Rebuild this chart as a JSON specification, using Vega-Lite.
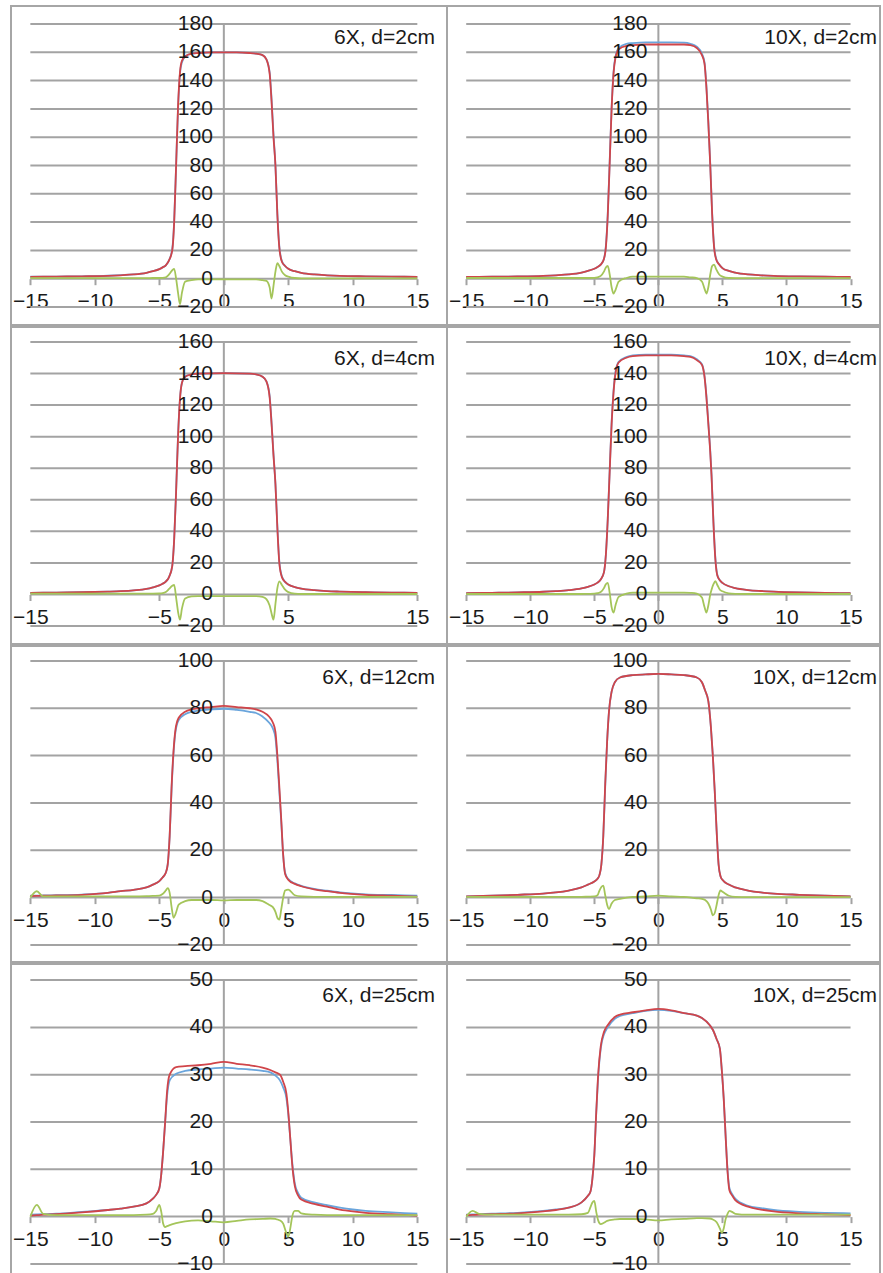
{
"$schema": "https://vega.github.io/schema/vega-lite/v6.json",
"padding": {"left": 10, "top": 5, "right": 0, "bottom": 0},
"background": "white",
"datasets": {"prof": [
{"p":"A","x":-15,"b":1.4,"r":1.3,"g":0.4},{"p":"A","x":-13,"b":1.5,"r":1.5,"g":0.4},{"p":"A","x":-11,"b":1.7,"r":1.7,"g":0.4},{"p":"A","x":-9,"b":2.1,"r":2.0,"g":0.4},{"p":"A","x":-8,"b":2.5,"r":2.4,"g":0.4},{"p":"A","x":-7,"b":3.0,"r":3.0,"g":0.4},{"p":"A","x":-6,"b":4.2,"r":4.2,"g":0.4},{"p":"A","x":-5.5,"b":5.3,"r":5.3,"g":0.5},{"p":"A","x":-5,"b":6.8,"r":6.8,"g":0.5},{"p":"A","x":-4.75,"b":8.0,"r":8.0,"g":0.6},{"p":"A","x":-4.5,"b":9.5,"r":9.5,"g":1.0},{"p":"A","x":-4.25,"b":13,"r":13,"g":3},{"p":"A","x":-4.0,"b":21,"r":20,"g":6},{"p":"A","x":-3.85,"b":41,"r":40,"g":7},{"p":"A","x":-3.7,"b":80,"r":80,"g":0},{"p":"A","x":-3.55,"b":120,"r":122,"g":-10},{"p":"A","x":-3.4,"b":145,"r":146,"g":-18},{"p":"A","x":-3.25,"b":153,"r":154,"g":-10},{"p":"A","x":-3.0,"b":157,"r":157,"g":-2},{"p":"A","x":-2.5,"b":159,"r":159,"g":-1},{"p":"A","x":-2,"b":159.5,"r":159.5,"g":-0.5},{"p":"A","x":-1,"b":160,"r":160,"g":-0.5},{"p":"A","x":0,"b":160,"r":160,"g":-0.5},{"p":"A","x":1,"b":160,"r":160,"g":-0.5},{"p":"A","x":2,"b":159.5,"r":159.5,"g":-0.5},{"p":"A","x":2.5,"b":159,"r":159,"g":-0.5},{"p":"A","x":3.0,"b":158,"r":158,"g":-1},{"p":"A","x":3.3,"b":155,"r":155,"g":-1.5},{"p":"A","x":3.55,"b":146,"r":145,"g":-6},{"p":"A","x":3.7,"b":127,"r":125,"g":-14},{"p":"A","x":3.85,"b":102,"r":100,"g":-5},{"p":"A","x":4.0,"b":80,"r":80,"g":5},{"p":"A","x":4.15,"b":46,"r":45,"g":11},{"p":"A","x":4.3,"b":23,"r":22,"g":9},{"p":"A","x":4.5,"b":12.5,"r":12,"g":5},{"p":"A","x":4.75,"b":9,"r":9,"g":2.5},{"p":"A","x":5,"b":7,"r":7,"g":1.5},{"p":"A","x":5.5,"b":5.3,"r":5.3,"g":0.5},{"p":"A","x":6,"b":4.2,"r":4.2,"g":0.3},{"p":"A","x":7,"b":3.0,"r":3.0,"g":0.3},{"p":"A","x":8,"b":2.4,"r":2.4,"g":0.3},{"p":"A","x":9,"b":2.0,"r":2.0,"g":0.3},{"p":"A","x":11,"b":1.7,"r":1.7,"g":0.3},{"p":"A","x":13,"b":1.5,"r":1.5,"g":0.3},{"p":"A","x":15,"b":1.3,"r":1.3,"g":0.3},
{"p":"B","x":-15,"b":1.2,"r":1.2,"g":0.5},{"p":"B","x":-13,"b":1.4,"r":1.4,"g":0.5},{"p":"B","x":-11,"b":1.6,"r":1.6,"g":0.5},{"p":"B","x":-9,"b":2.0,"r":2.0,"g":0.5},{"p":"B","x":-8,"b":2.4,"r":2.4,"g":0.5},{"p":"B","x":-7,"b":3.0,"r":3.0,"g":0.5},{"p":"B","x":-6,"b":4.3,"r":4.3,"g":0.5},{"p":"B","x":-5.5,"b":5.5,"r":5.5,"g":0.5},{"p":"B","x":-5,"b":7.0,"r":7.0,"g":0.6},{"p":"B","x":-4.75,"b":8.3,"r":8.3,"g":1},{"p":"B","x":-4.5,"b":10,"r":10,"g":2},{"p":"B","x":-4.25,"b":14,"r":14,"g":5},{"p":"B","x":-4.1,"b":23,"r":22,"g":8},{"p":"B","x":-3.95,"b":46,"r":45,"g":9},{"p":"B","x":-3.8,"b":83,"r":82,"g":3},{"p":"B","x":-3.65,"b":121,"r":120,"g":-6},{"p":"B","x":-3.5,"b":146,"r":145,"g":-10.5},{"p":"B","x":-3.35,"b":157,"r":156,"g":-8},{"p":"B","x":-3.1,"b":163,"r":162,"g":-2},{"p":"B","x":-2.5,"b":166,"r":164.5,"g":0.5},{"p":"B","x":-2,"b":166.5,"r":165,"g":1.5},{"p":"B","x":-1,"b":167,"r":165.5,"g":1.5},{"p":"B","x":0,"b":167,"r":165.5,"g":1.5},{"p":"B","x":1,"b":167,"r":165.5,"g":1.5},{"p":"B","x":2,"b":166.8,"r":165.5,"g":1.5},{"p":"B","x":2.5,"b":166,"r":165,"g":1},{"p":"B","x":3.0,"b":164,"r":163,"g":0.5},{"p":"B","x":3.4,"b":159,"r":158,"g":-2},{"p":"B","x":3.6,"b":153,"r":152,"g":-7},{"p":"B","x":3.75,"b":136,"r":135,"g":-10.5},{"p":"B","x":3.9,"b":111,"r":110,"g":-6},{"p":"B","x":4.05,"b":81,"r":80,"g":3},{"p":"B","x":4.2,"b":46,"r":45,"g":9},{"p":"B","x":4.35,"b":23,"r":22,"g":10},{"p":"B","x":4.5,"b":14.5,"r":14,"g":7},{"p":"B","x":4.75,"b":10,"r":10,"g":3},{"p":"B","x":5,"b":7.5,"r":7.5,"g":1.5},{"p":"B","x":5.5,"b":5.5,"r":5.5,"g":0.5},{"p":"B","x":6,"b":4.3,"r":4.3,"g":0.4},{"p":"B","x":7,"b":3.0,"r":3.0,"g":0.4},{"p":"B","x":8,"b":2.4,"r":2.4,"g":0.4},{"p":"B","x":9,"b":2.0,"r":2.0,"g":0.4},{"p":"B","x":11,"b":1.6,"r":1.6,"g":0.4},{"p":"B","x":13,"b":1.4,"r":1.4,"g":0.4},{"p":"B","x":15,"b":1.2,"r":1.2,"g":0.4},
{"p":"C","x":-15,"b":1.0,"r":1.0,"g":0.5},{"p":"C","x":-13,"b":1.2,"r":1.2,"g":0.5},{"p":"C","x":-11,"b":1.4,"r":1.4,"g":0.5},{"p":"C","x":-9,"b":1.8,"r":1.8,"g":0.5},{"p":"C","x":-8,"b":2.1,"r":2.1,"g":0.5},{"p":"C","x":-7,"b":2.6,"r":2.6,"g":0.5},{"p":"C","x":-6,"b":3.5,"r":3.5,"g":0.5},{"p":"C","x":-5.5,"b":4.5,"r":4.5,"g":0.5},{"p":"C","x":-5,"b":5.8,"r":5.8,"g":0.6},{"p":"C","x":-4.75,"b":6.8,"r":6.8,"g":0.8},{"p":"C","x":-4.5,"b":8.2,"r":8.2,"g":1.5},{"p":"C","x":-4.25,"b":11,"r":11,"g":3.5},{"p":"C","x":-4.0,"b":18,"r":18,"g":5.5},{"p":"C","x":-3.85,"b":35,"r":35,"g":6},{"p":"C","x":-3.7,"b":66,"r":65,"g":-2},{"p":"C","x":-3.55,"b":101,"r":100,"g":-11},{"p":"C","x":-3.4,"b":124,"r":124,"g":-16},{"p":"C","x":-3.25,"b":134,"r":134,"g":-9},{"p":"C","x":-3.0,"b":138,"r":138,"g":-2.5},{"p":"C","x":-2.5,"b":139.5,"r":139.5,"g":-1.2},{"p":"C","x":-2,"b":140,"r":140,"g":-1},{"p":"C","x":0,"b":140.3,"r":140.3,"g":-1},{"p":"C","x":2,"b":140,"r":140,"g":-1},{"p":"C","x":2.5,"b":139.5,"r":139.5,"g":-1},{"p":"C","x":3.0,"b":138,"r":138,"g":-1.5},{"p":"C","x":3.3,"b":135,"r":135,"g":-3},{"p":"C","x":3.55,"b":126,"r":125,"g":-7},{"p":"C","x":3.7,"b":109,"r":108,"g":-12},{"p":"C","x":3.85,"b":89,"r":88,"g":-16},{"p":"C","x":4.0,"b":70,"r":70,"g":-6},{"p":"C","x":4.15,"b":43,"r":42,"g":4},{"p":"C","x":4.3,"b":21,"r":20,"g":8.3},{"p":"C","x":4.5,"b":11.5,"r":11,"g":6},{"p":"C","x":4.75,"b":8,"r":8,"g":3},{"p":"C","x":5,"b":6.3,"r":6.3,"g":1.5},{"p":"C","x":5.5,"b":4.7,"r":4.7,"g":0.5},{"p":"C","x":6,"b":3.7,"r":3.7,"g":0.3},{"p":"C","x":7,"b":2.7,"r":2.7,"g":0.3},{"p":"C","x":8,"b":2.1,"r":2.1,"g":0.3},{"p":"C","x":9,"b":1.8,"r":1.8,"g":0.3},{"p":"C","x":11,"b":1.4,"r":1.4,"g":0.3},{"p":"C","x":13,"b":1.2,"r":1.2,"g":0.3},{"p":"C","x":15,"b":1.0,"r":1.0,"g":0.3},
{"p":"D","x":-15,"b":0.8,"r":0.8,"g":0.3},{"p":"D","x":-13,"b":1.0,"r":1.0,"g":0.3},{"p":"D","x":-11,"b":1.3,"r":1.3,"g":0.3},{"p":"D","x":-9,"b":1.7,"r":1.7,"g":0.3},{"p":"D","x":-8,"b":2.1,"r":2.1,"g":0.3},{"p":"D","x":-7,"b":2.7,"r":2.7,"g":0.3},{"p":"D","x":-6,"b":3.8,"r":3.8,"g":0.3},{"p":"D","x":-5.5,"b":4.8,"r":4.8,"g":0.4},{"p":"D","x":-5,"b":6.3,"r":6.3,"g":0.5},{"p":"D","x":-4.75,"b":7.5,"r":7.5,"g":0.8},{"p":"D","x":-4.5,"b":9.5,"r":9.5,"g":1.5},{"p":"D","x":-4.25,"b":14,"r":14,"g":4},{"p":"D","x":-4.1,"b":25,"r":25,"g":6.5},{"p":"D","x":-3.95,"b":48,"r":48,"g":7.4},{"p":"D","x":-3.8,"b":79,"r":78,"g":1},{"p":"D","x":-3.65,"b":109,"r":108,"g":-8},{"p":"D","x":-3.5,"b":129,"r":128,"g":-11.5},{"p":"D","x":-3.35,"b":141,"r":140,"g":-7},{"p":"D","x":-3.1,"b":147.5,"r":147,"g":-1.5},{"p":"D","x":-2.5,"b":150.5,"r":150,"g":0.5},{"p":"D","x":-2,"b":151.5,"r":151,"g":1.2},{"p":"D","x":-1,"b":152,"r":151.5,"g":1.2},{"p":"D","x":0,"b":152,"r":151.5,"g":1.2},{"p":"D","x":1,"b":152,"r":151.5,"g":1.2},{"p":"D","x":2,"b":151.5,"r":151,"g":1.2},{"p":"D","x":2.5,"b":151,"r":150.5,"g":1},{"p":"D","x":3.0,"b":149,"r":148.5,"g":0.5},{"p":"D","x":3.4,"b":146,"r":145.5,"g":-2},{"p":"D","x":3.6,"b":138.5,"r":138,"g":-8},{"p":"D","x":3.75,"b":126,"r":125,"g":-11.5},{"p":"D","x":3.9,"b":109,"r":108,"g":-7},{"p":"D","x":4.05,"b":91,"r":90,"g":0},{"p":"D","x":4.15,"b":76,"r":75,"g":3},{"p":"D","x":4.3,"b":46,"r":45,"g":6.5},{"p":"D","x":4.45,"b":23,"r":22,"g":8.4},{"p":"D","x":4.6,"b":12.5,"r":12,"g":6},{"p":"D","x":4.8,"b":9,"r":9,"g":3},{"p":"D","x":5,"b":7.3,"r":7.3,"g":2},{"p":"D","x":5.5,"b":5.2,"r":5.2,"g":0.7},{"p":"D","x":6,"b":4.0,"r":4.0,"g":0.4},{"p":"D","x":7,"b":2.8,"r":2.8,"g":0.3},{"p":"D","x":8,"b":2.2,"r":2.2,"g":0.3},{"p":"D","x":9,"b":1.8,"r":1.8,"g":0.3},{"p":"D","x":11,"b":1.3,"r":1.3,"g":0.3},{"p":"D","x":13,"b":1.0,"r":1.0,"g":0.3},{"p":"D","x":15,"b":0.8,"r":0.8,"g":0.3},
{"p":"E","x":-15,"b":0.8,"r":0.6,"g":0},{"p":"E","x":-14.5,"b":0.8,"r":0.7,"g":2.7},{"p":"E","x":-14,"b":0.9,"r":0.8,"g":0.5},{"p":"E","x":-13,"b":1.0,"r":0.9,"g":0.5},{"p":"E","x":-11,"b":1.3,"r":1.2,"g":0.5},{"p":"E","x":-9,"b":2.0,"r":2.0,"g":0.5},{"p":"E","x":-8,"b":2.7,"r":2.7,"g":0.5},{"p":"E","x":-7,"b":3.3,"r":3.3,"g":0.5},{"p":"E","x":-6,"b":4.3,"r":4.3,"g":0.6},{"p":"E","x":-5.5,"b":5.5,"r":5.5,"g":0.7},{"p":"E","x":-5,"b":7.0,"r":7.0,"g":0.8},{"p":"E","x":-4.75,"b":8.5,"r":8.5,"g":1.5},{"p":"E","x":-4.5,"b":10.5,"r":10.5,"g":3},{"p":"E","x":-4.35,"b":14,"r":14,"g":4},{"p":"E","x":-4.2,"b":26,"r":26,"g":2},{"p":"E","x":-4.05,"b":46,"r":47,"g":-4},{"p":"E","x":-3.9,"b":61,"r":62,"g":-8.5},{"p":"E","x":-3.75,"b":70,"r":71,"g":-7},{"p":"E","x":-3.5,"b":75,"r":76,"g":-3},{"p":"E","x":-3.0,"b":77.5,"r":78.5,"g":-1.5},{"p":"E","x":-2.5,"b":78.5,"r":79.5,"g":-1},{"p":"E","x":-2,"b":79,"r":80,"g":-1},{"p":"E","x":-1,"b":79.5,"r":80.5,"g":-1},{"p":"E","x":0,"b":79.8,"r":81,"g":-1.2},{"p":"E","x":1,"b":79.3,"r":80.5,"g":-1},{"p":"E","x":2,"b":78.5,"r":80,"g":-1},{"p":"E","x":2.5,"b":78,"r":79.5,"g":-1},{"p":"E","x":3.0,"b":76.5,"r":78.5,"g":-1.5},{"p":"E","x":3.5,"b":74,"r":76.5,"g":-3},{"p":"E","x":3.8,"b":71.5,"r":74,"g":-4},{"p":"E","x":4.0,"b":67.5,"r":70,"g":-6},{"p":"E","x":4.15,"b":58,"r":60,"g":-8.5},{"p":"E","x":4.3,"b":45,"r":47,"g":-9.3},{"p":"E","x":4.45,"b":32,"r":33,"g":-5},{"p":"E","x":4.6,"b":18,"r":18,"g":0},{"p":"E","x":4.75,"b":10.5,"r":10,"g":3},{"p":"E","x":5,"b":7.8,"r":7.5,"g":3.4},{"p":"E","x":5.5,"b":6.0,"r":5.8,"g":1},{"p":"E","x":6,"b":5.0,"r":4.8,"g":0.5},{"p":"E","x":7,"b":3.7,"r":3.5,"g":0.3},{"p":"E","x":8,"b":2.9,"r":2.7,"g":0.3},{"p":"E","x":9,"b":2.2,"r":2.0,"g":0.3},{"p":"E","x":11,"b":1.4,"r":1.2,"g":0.3},{"p":"E","x":13,"b":1.1,"r":0.8,"g":0.3},{"p":"E","x":15,"b":0.8,"r":0.4,"g":0.3},
{"p":"F","x":-15,"b":0.5,"r":0.5,"g":0.3},{"p":"F","x":-13,"b":0.8,"r":0.8,"g":0.3},{"p":"F","x":-11,"b":1.2,"r":1.2,"g":0.3},{"p":"F","x":-9,"b":1.7,"r":1.7,"g":0.3},{"p":"F","x":-8,"b":2.2,"r":2.2,"g":0.3},{"p":"F","x":-7,"b":3.0,"r":3.0,"g":0.3},{"p":"F","x":-6,"b":4.3,"r":4.3,"g":0.3},{"p":"F","x":-5.5,"b":5.5,"r":5.5,"g":0.4},{"p":"F","x":-5,"b":6.8,"r":6.8,"g":0.5},{"p":"F","x":-4.75,"b":8,"r":8,"g":1},{"p":"F","x":-4.6,"b":9.5,"r":9.5,"g":3},{"p":"F","x":-4.45,"b":14,"r":14,"g":4.5},{"p":"F","x":-4.3,"b":26,"r":26,"g":5.1},{"p":"F","x":-4.15,"b":47,"r":48,"g":1},{"p":"F","x":-4.0,"b":66,"r":66,"g":-3},{"p":"F","x":-3.85,"b":79,"r":79,"g":-4.8},{"p":"F","x":-3.65,"b":87,"r":87,"g":-2.5},{"p":"F","x":-3.4,"b":91,"r":91,"g":-1},{"p":"F","x":-3.0,"b":93,"r":93,"g":-0.5},{"p":"F","x":-2,"b":94,"r":94,"g":0.3},{"p":"F","x":-1,"b":94.3,"r":94.3,"g":0.5},{"p":"F","x":0,"b":94.5,"r":94.5,"g":0.8},{"p":"F","x":1,"b":94.3,"r":94.3,"g":0.5},{"p":"F","x":2,"b":94,"r":94,"g":0.3},{"p":"F","x":3.0,"b":93,"r":93,"g":-0.3},{"p":"F","x":3.4,"b":91,"r":91,"g":-0.5},{"p":"F","x":3.65,"b":87.5,"r":87.5,"g":-1},{"p":"F","x":3.9,"b":83,"r":83,"g":-2.5},{"p":"F","x":4.1,"b":72,"r":72,"g":-5},{"p":"F","x":4.25,"b":60,"r":60,"g":-7.5},{"p":"F","x":4.4,"b":45,"r":45,"g":-6.5},{"p":"F","x":4.55,"b":28,"r":28,"g":-3},{"p":"F","x":4.7,"b":14,"r":14,"g":1},{"p":"F","x":4.85,"b":9,"r":9,"g":3},{"p":"F","x":5,"b":7.5,"r":7.5,"g":2.5},{"p":"F","x":5.5,"b":5.5,"r":5.5,"g":0.8},{"p":"F","x":6,"b":4.3,"r":4.3,"g":0.3},{"p":"F","x":7,"b":3.0,"r":3.0,"g":0.2},{"p":"F","x":8,"b":2.2,"r":2.2,"g":0.2},{"p":"F","x":9,"b":1.7,"r":1.7,"g":0.2},{"p":"F","x":11,"b":1.2,"r":1.2,"g":0.2},{"p":"F","x":13,"b":0.8,"r":0.8,"g":0.2},{"p":"F","x":15,"b":0.5,"r":0.5,"g":0.2},
{"p":"G","x":-15,"b":0.4,"r":0.2,"g":0},{"p":"G","x":-14.5,"b":0.45,"r":0.3,"g":2.5},{"p":"G","x":-14,"b":0.5,"r":0.4,"g":0.6},{"p":"G","x":-13,"b":0.6,"r":0.5,"g":0.3},{"p":"G","x":-11,"b":1.0,"r":0.9,"g":0.3},{"p":"G","x":-9,"b":1.4,"r":1.4,"g":0.3},{"p":"G","x":-8,"b":1.7,"r":1.7,"g":0.3},{"p":"G","x":-7,"b":2.1,"r":2.1,"g":0.3},{"p":"G","x":-6,"b":2.8,"r":2.8,"g":0.4},{"p":"G","x":-5.5,"b":3.8,"r":3.8,"g":0.6},{"p":"G","x":-5.25,"b":4.6,"r":4.6,"g":1.2},{"p":"G","x":-5.0,"b":6,"r":6,"g":2.5},{"p":"G","x":-4.85,"b":9,"r":9,"g":1.0},{"p":"G","x":-4.7,"b":14,"r":14,"g":-1.5},{"p":"G","x":-4.55,"b":20,"r":20,"g":-2.2},{"p":"G","x":-4.4,"b":25.5,"r":26.5,"g":-2.0},{"p":"G","x":-4.2,"b":28.8,"r":30,"g":-1.8},{"p":"G","x":-3.7,"b":30.2,"r":31.6,"g":-1.4},{"p":"G","x":-3,"b":30.8,"r":31.8,"g":-1.0},{"p":"G","x":-2,"b":31.1,"r":32,"g":-0.8},{"p":"G","x":-1,"b":31.3,"r":32.3,"g":-1.0},{"p":"G","x":0,"b":31.5,"r":32.7,"g":-1.2},{"p":"G","x":1,"b":31.3,"r":32.3,"g":-0.9},{"p":"G","x":2,"b":31.1,"r":32,"g":-0.6},{"p":"G","x":3,"b":30.8,"r":31.5,"g":-0.5},{"p":"G","x":3.6,"b":30.5,"r":31,"g":-0.4},{"p":"G","x":4.0,"b":29.8,"r":30.5,"g":-0.5},{"p":"G","x":4.35,"b":28.8,"r":30,"g":-0.8},{"p":"G","x":4.6,"b":27.3,"r":28.5,"g":-1.5},{"p":"G","x":4.85,"b":25,"r":26,"g":-3.5},{"p":"G","x":5.0,"b":21.5,"r":22,"g":-4.2},{"p":"G","x":5.15,"b":16.5,"r":16.5,"g":-2.5},{"p":"G","x":5.3,"b":11.5,"r":11,"g":0},{"p":"G","x":5.5,"b":7,"r":6.5,"g":1.2},{"p":"G","x":5.75,"b":5,"r":4.5,"g":1.2},{"p":"G","x":6,"b":4,"r":3.6,"g":0.7},{"p":"G","x":7,"b":3,"r":2.7,"g":0.4},{"p":"G","x":8,"b":2.4,"r":2.1,"g":0.3},{"p":"G","x":9,"b":1.9,"r":1.5,"g":0.3},{"p":"G","x":10,"b":1.5,"r":1.1,"g":0.3},{"p":"G","x":11,"b":1.2,"r":0.8,"g":0.3},{"p":"G","x":13,"b":0.9,"r":0.5,"g":0.3},{"p":"G","x":15,"b":0.6,"r":0.2,"g":0.3},
{"p":"H","x":-15,"b":0.4,"r":0.3,"g":0},{"p":"H","x":-14.5,"b":0.45,"r":0.35,"g":1.2},{"p":"H","x":-14,"b":0.5,"r":0.4,"g":0.6},{"p":"H","x":-13,"b":0.6,"r":0.5,"g":0.4},{"p":"H","x":-11,"b":0.8,"r":0.7,"g":0.4},{"p":"H","x":-9,"b":1.2,"r":1.1,"g":0.4},{"p":"H","x":-8,"b":1.5,"r":1.4,"g":0.4},{"p":"H","x":-7,"b":1.9,"r":1.9,"g":0.4},{"p":"H","x":-6,"b":3.0,"r":3.0,"g":0.5},{"p":"H","x":-5.5,"b":4.4,"r":4.4,"g":0.8},{"p":"H","x":-5.3,"b":5.3,"r":5.3,"g":2.0},{"p":"H","x":-5.15,"b":8,"r":8,"g":3.0},{"p":"H","x":-5.0,"b":13,"r":13,"g":3.3},{"p":"H","x":-4.85,"b":22,"r":22,"g":1},{"p":"H","x":-4.7,"b":29.5,"r":30,"g":-0.8},{"p":"H","x":-4.5,"b":35.5,"r":36,"g":-1.6},{"p":"H","x":-4.25,"b":38.5,"r":39,"g":-1.3},{"p":"H","x":-4.0,"b":39.8,"r":40.3,"g":-0.9},{"p":"H","x":-3.4,"b":41.8,"r":42.2,"g":-0.6},{"p":"H","x":-3,"b":42.4,"r":42.7,"g":-0.5},{"p":"H","x":-2,"b":43,"r":43.2,"g":-0.5},{"p":"H","x":-1,"b":43.5,"r":43.6,"g":-0.6},{"p":"H","x":0,"b":43.7,"r":43.9,"g":-0.8},{"p":"H","x":1,"b":43.5,"r":43.6,"g":-0.6},{"p":"H","x":2,"b":43,"r":43,"g":-0.5},{"p":"H","x":3,"b":42.5,"r":42.5,"g":-0.3},{"p":"H","x":3.4,"b":42,"r":42,"g":-0.3},{"p":"H","x":4.0,"b":40.5,"r":40.5,"g":-0.4},{"p":"H","x":4.25,"b":39.5,"r":39.5,"g":-0.6},{"p":"H","x":4.55,"b":37.5,"r":37.5,"g":-1.2},{"p":"H","x":4.8,"b":35.5,"r":35.5,"g":-2.5},{"p":"H","x":4.95,"b":31,"r":31,"g":-3.4},{"p":"H","x":5.1,"b":25,"r":25,"g":-2.5},{"p":"H","x":5.25,"b":17,"r":17,"g":-0.5},{"p":"H","x":5.4,"b":9.8,"r":9.5,"g":0.6},{"p":"H","x":5.55,"b":6,"r":5.5,"g":1.2},{"p":"H","x":5.75,"b":4.8,"r":4.5,"g":1.0},{"p":"H","x":6,"b":3.8,"r":3.5,"g":0.6},{"p":"H","x":7,"b":2.3,"r":2.1,"g":0.4},{"p":"H","x":8,"b":1.8,"r":1.5,"g":0.4},{"p":"H","x":9,"b":1.4,"r":1.1,"g":0.4},{"p":"H","x":11,"b":1.0,"r":0.7,"g":0.4},{"p":"H","x":13,"b":0.8,"r":0.5,"g":0.4},{"p":"H","x":15,"b":0.7,"r":0.3,"g":0.4}
],
"g180": [{"g":-20},{"g":0},{"g":20},{"g":40},{"g":60},{"g":80},{"g":100},{"g":120},{"g":140},{"g":160},{"g":180}],
"g160": [{"g":-20},{"g":0},{"g":20},{"g":40},{"g":60},{"g":80},{"g":100},{"g":120},{"g":140},{"g":160}],
"g100": [{"g":-20},{"g":0},{"g":20},{"g":40},{"g":60},{"g":80},{"g":100}],
"g50": [{"g":-10},{"g":0},{"g":10},{"g":20},{"g":30},{"g":40},{"g":50}]
},
"spacing": 0,
"vconcat": [
{"hconcat": [
{"width": 436, "height": 319, "title": {"text": "6X, d=2cm", "dx": -12},
 "layer": [
  {"data": {"name": "g180"}, "mark": {"type": "rule", "color": "#a3a3a3", "strokeWidth": 2},
   "encoding": {
    "x": {"datum": -15, "type": "quantitative", "scale": {"domain": [-16.5, 17.3], "nice": false, "zero": false}, "axis": {"values": [-15,-10,-5,0,5,10,15], "offset": -46.3, "title": null}},
    "x2": {"datum": 15},
    "y": {"field": "g", "type": "quantitative", "scale": {"domain": [-32.7, 192.7], "nice": false, "zero": false}, "axis": null}}},
  {"data": {"values": [{}]}, "mark": {"type": "rule", "color": "#a3a3a3", "strokeWidth": 2},
   "encoding": {"x": {"datum": 0, "type": "quantitative"}, "y": {"datum": -20, "type": "quantitative", "axis": null}, "y2": {"datum": 180}}},
  {"data": {"name": "prof"}, "transform": [{"filter": "datum.p == 'A'"}, {"fold": ["b", "r", "g"], "as": ["s", "v"]}],
   "mark": {"type": "line", "strokeWidth": 1.8, "interpolate": "monotone"},
   "encoding": {"x": {"field": "x", "type": "quantitative", "axis": {"title": null}}, "y": {"field": "v", "type": "quantitative", "axis": null},
    "color": {"field": "s", "type": "nominal", "scale": {"domain": ["b", "r", "g"], "range": ["#6aa5dc", "#d0454a", "#a4c55a"]}, "legend": null}}},
  {"data": {"name": "g180"}, "mark": {"type": "text", "align": "right", "baseline": "middle", "dx": -11, "fontSize": 21, "font": "Liberation Sans", "color": "#1a1a1a"},
   "encoding": {"x": {"datum": 0, "type": "quantitative"}, "y": {"field": "g", "type": "quantitative", "axis": null}, "text": {"field": "g", "type": "quantitative", "format": "d"}}}
 ]},
{"width": 433, "height": 319, "title": {"text": "10X, d=2cm", "dx": -3},
 "layer": [
  {"data": {"name": "g180"}, "mark": {"type": "rule", "color": "#a3a3a3", "strokeWidth": 2},
   "encoding": {
    "x": {"datum": -15, "type": "quantitative", "scale": {"domain": [-16.5, 17.3], "nice": false, "zero": false}, "axis": {"values": [-15,-10,-5,0,5,10,15], "offset": -46.3, "title": null}},
    "x2": {"datum": 15},
    "y": {"field": "g", "type": "quantitative", "scale": {"domain": [-32.7, 192.7], "nice": false, "zero": false}, "axis": null}}},
  {"data": {"values": [{}]}, "mark": {"type": "rule", "color": "#a3a3a3", "strokeWidth": 2},
   "encoding": {"x": {"datum": 0, "type": "quantitative"}, "y": {"datum": -20, "type": "quantitative", "axis": null}, "y2": {"datum": 180}}},
  {"data": {"name": "prof"}, "transform": [{"filter": "datum.p == 'B'"}, {"fold": ["b", "r", "g"], "as": ["s", "v"]}],
   "mark": {"type": "line", "strokeWidth": 1.8, "interpolate": "monotone"},
   "encoding": {"x": {"field": "x", "type": "quantitative", "axis": {"title": null}}, "y": {"field": "v", "type": "quantitative", "axis": null},
    "color": {"field": "s", "type": "nominal", "scale": {"domain": ["b", "r", "g"], "range": ["#6aa5dc", "#d0454a", "#a4c55a"]}, "legend": null}}},
  {"data": {"name": "g180"}, "mark": {"type": "text", "align": "right", "baseline": "middle", "dx": -11, "fontSize": 21, "font": "Liberation Sans", "color": "#1a1a1a"},
   "encoding": {"x": {"datum": 0, "type": "quantitative"}, "y": {"field": "g", "type": "quantitative", "axis": null}, "text": {"field": "g", "type": "quantitative", "format": "d"}}}
 ]}
], "spacing": 0, "bounds": "flush"},
{"hconcat": [
{"width": 436, "height": 317, "title": {"text": "6X, d=4cm", "dx": -12},
 "layer": [
  {"data": {"name": "g160"}, "mark": {"type": "rule", "color": "#a3a3a3", "strokeWidth": 2},
   "encoding": {
    "x": {"datum": -15, "type": "quantitative", "scale": {"domain": [-16.5, 17.3], "nice": false, "zero": false}, "axis": {"values": [-15,-5,5,15], "offset": -49.5, "title": null}},
    "x2": {"datum": 15},
    "y": {"field": "g", "type": "quantitative", "scale": {"domain": [-31.4, 169.5], "nice": false, "zero": false}, "axis": null}}},
  {"data": {"values": [{}]}, "mark": {"type": "rule", "color": "#a3a3a3", "strokeWidth": 2},
   "encoding": {"x": {"datum": 0, "type": "quantitative"}, "y": {"datum": -20, "type": "quantitative", "axis": null}, "y2": {"datum": 160}}},
  {"data": {"name": "prof"}, "transform": [{"filter": "datum.p == 'C'"}, {"fold": ["b", "r", "g"], "as": ["s", "v"]}],
   "mark": {"type": "line", "strokeWidth": 1.8, "interpolate": "monotone"},
   "encoding": {"x": {"field": "x", "type": "quantitative", "axis": {"title": null}}, "y": {"field": "v", "type": "quantitative", "axis": null},
    "color": {"field": "s", "type": "nominal", "scale": {"domain": ["b", "r", "g"], "range": ["#6aa5dc", "#d0454a", "#a4c55a"]}, "legend": null}}},
  {"data": {"name": "g160"}, "mark": {"type": "text", "align": "right", "baseline": "middle", "dx": -11, "fontSize": 21, "font": "Liberation Sans", "color": "#1a1a1a"},
   "encoding": {"x": {"datum": 0, "type": "quantitative"}, "y": {"field": "g", "type": "quantitative", "axis": null}, "text": {"field": "g", "type": "quantitative", "format": "d"}}}
 ]},
{"width": 433, "height": 317, "title": {"text": "10X, d=4cm", "dx": -3},
 "layer": [
  {"data": {"name": "g160"}, "mark": {"type": "rule", "color": "#a3a3a3", "strokeWidth": 2},
   "encoding": {
    "x": {"datum": -15, "type": "quantitative", "scale": {"domain": [-16.5, 17.3], "nice": false, "zero": false}, "axis": {"values": [-15,-10,-5,0,5,10,15], "offset": -49.5, "title": null}},
    "x2": {"datum": 15},
    "y": {"field": "g", "type": "quantitative", "scale": {"domain": [-31.4, 169.5], "nice": false, "zero": false}, "axis": null}}},
  {"data": {"values": [{}]}, "mark": {"type": "rule", "color": "#a3a3a3", "strokeWidth": 2},
   "encoding": {"x": {"datum": 0, "type": "quantitative"}, "y": {"datum": -20, "type": "quantitative", "axis": null}, "y2": {"datum": 160}}},
  {"data": {"name": "prof"}, "transform": [{"filter": "datum.p == 'D'"}, {"fold": ["b", "r", "g"], "as": ["s", "v"]}],
   "mark": {"type": "line", "strokeWidth": 1.8, "interpolate": "monotone"},
   "encoding": {"x": {"field": "x", "type": "quantitative", "axis": {"title": null}}, "y": {"field": "v", "type": "quantitative", "axis": null},
    "color": {"field": "s", "type": "nominal", "scale": {"domain": ["b", "r", "g"], "range": ["#6aa5dc", "#d0454a", "#a4c55a"]}, "legend": null}}},
  {"data": {"name": "g160"}, "mark": {"type": "text", "align": "right", "baseline": "middle", "dx": -11, "fontSize": 21, "font": "Liberation Sans", "color": "#1a1a1a"},
   "encoding": {"x": {"datum": 0, "type": "quantitative"}, "y": {"field": "g", "type": "quantitative", "axis": null}, "text": {"field": "g", "type": "quantitative", "format": "d"}}}
 ]}
], "spacing": 0, "bounds": "flush"},
{"hconcat": [
{"width": 436, "height": 316, "title": {"text": "6X, d=12cm", "dx": -12},
 "layer": [
  {"data": {"name": "g100"}, "mark": {"type": "rule", "color": "#a3a3a3", "strokeWidth": 2},
   "encoding": {
    "x": {"datum": -15, "type": "quantitative", "scale": {"domain": [-16.5, 17.3], "nice": false, "zero": false}, "axis": {"values": [-15,-10,-5,0,5,10,15], "offset": -64.4, "title": null}},
    "x2": {"datum": 15},
    "y": {"field": "g", "type": "quantitative", "scale": {"domain": [-27.2, 106.3], "nice": false, "zero": false}, "axis": null}}},
  {"data": {"values": [{}]}, "mark": {"type": "rule", "color": "#a3a3a3", "strokeWidth": 2},
   "encoding": {"x": {"datum": 0, "type": "quantitative"}, "y": {"datum": -20, "type": "quantitative", "axis": null}, "y2": {"datum": 100}}},
  {"data": {"name": "prof"}, "transform": [{"filter": "datum.p == 'E'"}, {"fold": ["b", "r", "g"], "as": ["s", "v"]}],
   "mark": {"type": "line", "strokeWidth": 1.8, "interpolate": "monotone"},
   "encoding": {"x": {"field": "x", "type": "quantitative", "axis": {"title": null}}, "y": {"field": "v", "type": "quantitative", "axis": null},
    "color": {"field": "s", "type": "nominal", "scale": {"domain": ["b", "r", "g"], "range": ["#6aa5dc", "#d0454a", "#a4c55a"]}, "legend": null}}},
  {"data": {"name": "g100"}, "mark": {"type": "text", "align": "right", "baseline": "middle", "dx": -11, "fontSize": 21, "font": "Liberation Sans", "color": "#1a1a1a"},
   "encoding": {"x": {"datum": 0, "type": "quantitative"}, "y": {"field": "g", "type": "quantitative", "axis": null}, "text": {"field": "g", "type": "quantitative", "format": "d"}}}
 ]},
{"width": 433, "height": 316, "title": {"text": "10X, d=12cm", "dx": -3},
 "layer": [
  {"data": {"name": "g100"}, "mark": {"type": "rule", "color": "#a3a3a3", "strokeWidth": 2},
   "encoding": {
    "x": {"datum": -15, "type": "quantitative", "scale": {"domain": [-16.5, 17.3], "nice": false, "zero": false}, "axis": {"values": [-15,-10,-5,0,5,10,15], "offset": -64.4, "title": null}},
    "x2": {"datum": 15},
    "y": {"field": "g", "type": "quantitative", "scale": {"domain": [-27.2, 106.3], "nice": false, "zero": false}, "axis": null}}},
  {"data": {"values": [{}]}, "mark": {"type": "rule", "color": "#a3a3a3", "strokeWidth": 2},
   "encoding": {"x": {"datum": 0, "type": "quantitative"}, "y": {"datum": -20, "type": "quantitative", "axis": null}, "y2": {"datum": 100}}},
  {"data": {"name": "prof"}, "transform": [{"filter": "datum.p == 'F'"}, {"fold": ["b", "r", "g"], "as": ["s", "v"]}],
   "mark": {"type": "line", "strokeWidth": 1.8, "interpolate": "monotone"},
   "encoding": {"x": {"field": "x", "type": "quantitative", "axis": {"title": null}}, "y": {"field": "v", "type": "quantitative", "axis": null},
    "color": {"field": "s", "type": "nominal", "scale": {"domain": ["b", "r", "g"], "range": ["#6aa5dc", "#d0454a", "#a4c55a"]}, "legend": null}}},
  {"data": {"name": "g100"}, "mark": {"type": "text", "align": "right", "baseline": "middle", "dx": -11, "fontSize": 21, "font": "Liberation Sans", "color": "#1a1a1a"},
   "encoding": {"x": {"datum": 0, "type": "quantitative"}, "y": {"field": "g", "type": "quantitative", "axis": null}, "text": {"field": "g", "type": "quantitative", "format": "d"}}}
 ]}
], "spacing": 0, "bounds": "flush"},
{"hconcat": [
{"width": 436, "height": 316, "title": {"text": "6X, d=25cm", "dx": -12},
 "layer": [
  {"data": {"name": "g50"}, "mark": {"type": "rule", "color": "#a3a3a3", "strokeWidth": 2},
   "encoding": {
    "x": {"datum": -15, "type": "quantitative", "scale": {"domain": [-16.5, 17.3], "nice": false, "zero": false}, "axis": {"values": [-15,-10,-5,0,5,10,15], "offset": -63.4, "title": null}},
    "x2": {"datum": 15},
    "y": {"field": "g", "type": "quantitative", "scale": {"domain": [-13.4, 53.4], "nice": false, "zero": false}, "axis": null}}},
  {"data": {"values": [{}]}, "mark": {"type": "rule", "color": "#a3a3a3", "strokeWidth": 2},
   "encoding": {"x": {"datum": 0, "type": "quantitative"}, "y": {"datum": -10, "type": "quantitative", "axis": null}, "y2": {"datum": 50}}},
  {"data": {"name": "prof"}, "transform": [{"filter": "datum.p == 'G'"}, {"fold": ["b", "r", "g"], "as": ["s", "v"]}],
   "mark": {"type": "line", "strokeWidth": 1.8, "interpolate": "monotone"},
   "encoding": {"x": {"field": "x", "type": "quantitative", "axis": {"title": null}}, "y": {"field": "v", "type": "quantitative", "axis": null},
    "color": {"field": "s", "type": "nominal", "scale": {"domain": ["b", "r", "g"], "range": ["#6aa5dc", "#d0454a", "#a4c55a"]}, "legend": null}}},
  {"data": {"name": "g50"}, "mark": {"type": "text", "align": "right", "baseline": "middle", "dx": -11, "fontSize": 21, "font": "Liberation Sans", "color": "#1a1a1a"},
   "encoding": {"x": {"datum": 0, "type": "quantitative"}, "y": {"field": "g", "type": "quantitative", "axis": null}, "text": {"field": "g", "type": "quantitative", "format": "d"}}}
 ]},
{"width": 433, "height": 316, "title": {"text": "10X, d=25cm", "dx": -3},
 "layer": [
  {"data": {"name": "g50"}, "mark": {"type": "rule", "color": "#a3a3a3", "strokeWidth": 2},
   "encoding": {
    "x": {"datum": -15, "type": "quantitative", "scale": {"domain": [-16.5, 17.3], "nice": false, "zero": false}, "axis": {"values": [-15,-10,-5,0,5,10,15], "offset": -63.4, "title": null}},
    "x2": {"datum": 15},
    "y": {"field": "g", "type": "quantitative", "scale": {"domain": [-13.4, 53.4], "nice": false, "zero": false}, "axis": null}}},
  {"data": {"values": [{}]}, "mark": {"type": "rule", "color": "#a3a3a3", "strokeWidth": 2},
   "encoding": {"x": {"datum": 0, "type": "quantitative"}, "y": {"datum": -10, "type": "quantitative", "axis": null}, "y2": {"datum": 50}}},
  {"data": {"name": "prof"}, "transform": [{"filter": "datum.p == 'H'"}, {"fold": ["b", "r", "g"], "as": ["s", "v"]}],
   "mark": {"type": "line", "strokeWidth": 1.8, "interpolate": "monotone"},
   "encoding": {"x": {"field": "x", "type": "quantitative", "axis": {"title": null}}, "y": {"field": "v", "type": "quantitative", "axis": null},
    "color": {"field": "s", "type": "nominal", "scale": {"domain": ["b", "r", "g"], "range": ["#6aa5dc", "#d0454a", "#a4c55a"]}, "legend": null}}},
  {"data": {"name": "g50"}, "mark": {"type": "text", "align": "right", "baseline": "middle", "dx": -11, "fontSize": 21, "font": "Liberation Sans", "color": "#1a1a1a"},
   "encoding": {"x": {"datum": 0, "type": "quantitative"}, "y": {"field": "g", "type": "quantitative", "axis": null}, "text": {"field": "g", "type": "quantitative", "format": "d"}}}
 ]}
], "spacing": 0, "bounds": "flush"}
],
"config": {
 "font": "Liberation Sans",
 "view": {"stroke": "#a6a6a6", "strokeWidth": 2},
 "axisX": {"domain": false, "grid": false, "ticks": true, "tickColor": "#a3a3a3", "tickWidth": 2, "tickSize": 6, "labelPadding": 6, "labelOverlap": false, "labelFlush": false, "labelFont": "Liberation Sans", "labelFontSize": 21, "labelColor": "#1a1a1a", "zindex": 1},
 "title": {"font": "Liberation Sans", "fontSize": 21, "fontWeight": "normal", "color": "#1a1a1a", "anchor": "end", "frame": "group", "orient": "top", "offset": -42, "baseline": "middle"}
}
}
